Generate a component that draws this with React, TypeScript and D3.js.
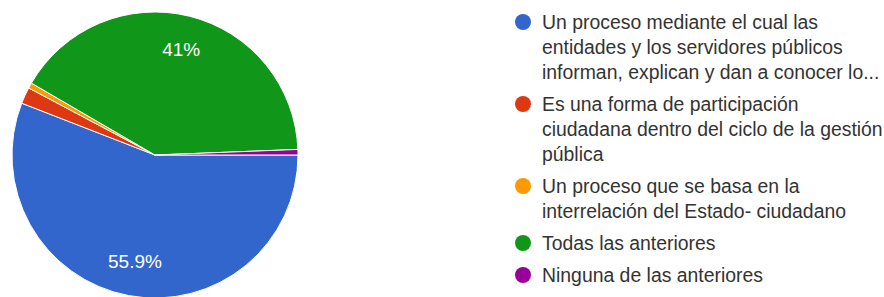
import * as d3 from "d3";
import { useEffect, useRef } from "react";

// respuestas por opcion (orden de la leyenda)
const categories = [
  "Un proceso mediante el cual las entidades y los servidores públicos informan, explican y dan a conocer lo...",
  "Es una forma de participación ciudadana dentro del ciclo de la gestión pública",
  "Un proceso que se basa en la interrelación del Estado- ciudadano",
  "Todas las anteriores",
  "Ninguna de las anteriores",
];
const counts = [90, 3, 1, 66, 1];
const colors = ["#3366cc", "#dc3912", "#ff9900", "#109618", "#990099"];
// lineas de la leyenda tal como se cortan en el grafico
const legendLines = [
  ["Un proceso mediante el cual las", "entidades y los servidores públicos", "informan, explican y dan a conocer lo..."],
  ["Es una forma de participación", "ciudadana dentro del ciclo de la gestión", "pública"],
  ["Un proceso que se basa en la", "interrelación del Estado- ciudadano"],
  ["Todas las anteriores"],
  ["Ninguna de las anteriores"],
];

const W = 884;
const H = 297;

const App = () => {
  const ref = useRef<SVGSVGElement>(null);

  useEffect(() => {
    const svg = d3.select(ref.current);
    svg.selectAll("*").remove();

    const cx = 155, cy = 155, R = 143;
    const total = d3.sum(counts);

    const pie = d3
      .pie<number>()
      .sort(null)
      .value((d) => d)
      .startAngle(Math.PI / 2)
      .endAngle(Math.PI / 2 + 2 * Math.PI);
    const arcs = pie(counts);

    const arc = d3.arc<d3.PieArcDatum<number>>().innerRadius(0).outerRadius(R);
    const labelArc = d3.arc<d3.PieArcDatum<number>>().innerRadius(R * 0.76).outerRadius(R * 0.76);

    const g = svg.append("g").attr("transform", `translate(${cx},${cy})`);
    g.selectAll("path")
      .data(arcs)
      .enter()
      .append("path")
      .attr("d", arc)
      .attr("fill", (d, i) => colors[i])
      .attr("stroke", "#fff")
      .attr("stroke-width", 1);

    const fmt = d3.format(".3~r");
    g.selectAll("text")
      .data(arcs.filter((d) => d.value / total > 0.05))
      .enter()
      .append("text")
      .attr("transform", (d) => `translate(${labelArc.centroid(d)})`)
      .attr("text-anchor", "middle")
      .attr("dominant-baseline", "central")
      .attr("fill", "#fff")
      .style("font-family", "Arial, 'Liberation Sans', sans-serif")
      .style("font-size", "19px")
      .text((d) => fmt((d.value / total) * 100) + "%");

    // leyenda
    const lineH = 25;
    const itemGap = 7;
    const leg = svg.append("g");
    let y = 22;
    legendLines.forEach((lines, i) => {
      leg.append("circle")
        .attr("cx", 523)
        .attr("cy", y)
        .attr("r", 8)
        .attr("fill", colors[i]);
      lines.forEach((ln, j) => {
        leg.append("text")
          .attr("x", 542)
          .attr("y", y + j * lineH)
          .attr("dominant-baseline", "central")
          .attr("fill", "#333")
          .style("font-family", "Arial, 'Liberation Sans', sans-serif")
          .style("font-size", "19.4px")
          .text(ln);
      });
      y += lines.length * lineH + itemGap;
    });
  }, []);

  return (
    <svg
      ref={ref}
      width={W}
      height={H}
      style={{ position: "absolute", left: 0, top: 0, background: "#fff" }}
    >
      <title>{categories.join(" | ")}</title>
    </svg>
  );
};

export default App;
